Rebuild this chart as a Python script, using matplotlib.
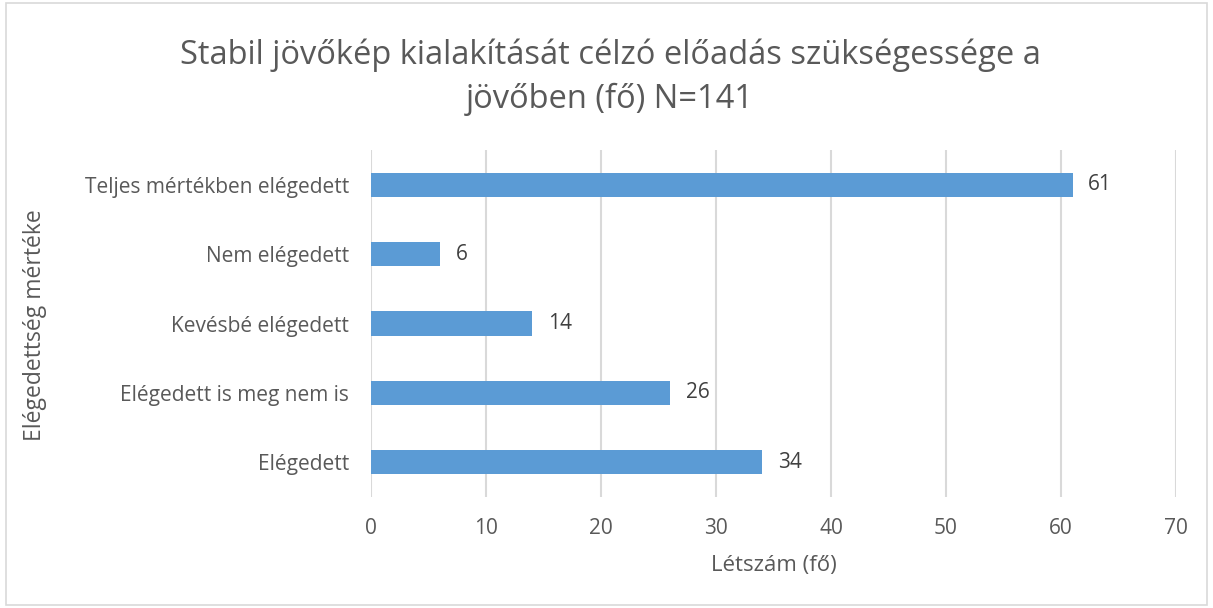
import matplotlib.pyplot as plt
from matplotlib.patches import Rectangle

categories = ["Elégedett", "Elégedett is meg nem is", "Kevésbé elégedett",
              "Nem elégedett", "Teljes mértékben elégedett"]
values = [34, 26, 14, 6, 61]
xticks = [0, 10, 20, 30, 40, 50, 60, 70]

plt.rcParams['font.family'] = ['Open Sans', 'DejaVu Sans']
text_col = "#595959"

fig = plt.figure(figsize=(12.13, 6.08), dpi=100)
ax = fig.add_axes([0.306, 0.1826, 0.6635, 0.5704])

ax.barh(range(len(categories)), values, height=0.35, color="#5B9BD5", zorder=3)
for i, v in enumerate(values):
    ax.text(v + 1.35, i, str(v), va="center", ha="left", fontsize=15, color="#404040")

ax.set_xlim(0, 70)
ax.set_ylim(-0.5, len(categories) - 0.5)
ax.set_xticks(xticks)
ax.set_yticks(range(len(categories)))
ax.set_yticklabels(categories)
ax.grid(axis="x", color="#D9D9D9", linewidth=1.5, zorder=0)
for s in ax.spines.values():
    s.set_visible(False)
ax.tick_params(axis="both", length=0, labelsize=15, labelcolor=text_col)
ax.tick_params(axis="x", pad=15)
ax.tick_params(axis="y", pad=16)

ax.set_xlabel("Létszám (fő)", fontsize=16, color=text_col, labelpad=12)
fig.text(0.029, 0.465, "Elégedettség mértéke", rotation=90, fontsize=16.5,
         color=text_col, ha="center", va="center")

fig.text(0.503, 0.8725, "Stabil jövőkép kialakítását célzó előadás szükségessége a\njövőben (fő) N=141",
         ha="center", va="center", fontsize=23.5, color=text_col, linespacing=1.42)

fig.patches.append(Rectangle((0.005, 0.005), 0.99, 0.99, transform=fig.transFigure,
                             fill=False, edgecolor="#D9D9D9", linewidth=1.2))

fig.savefig("out.png", dpi=100)
